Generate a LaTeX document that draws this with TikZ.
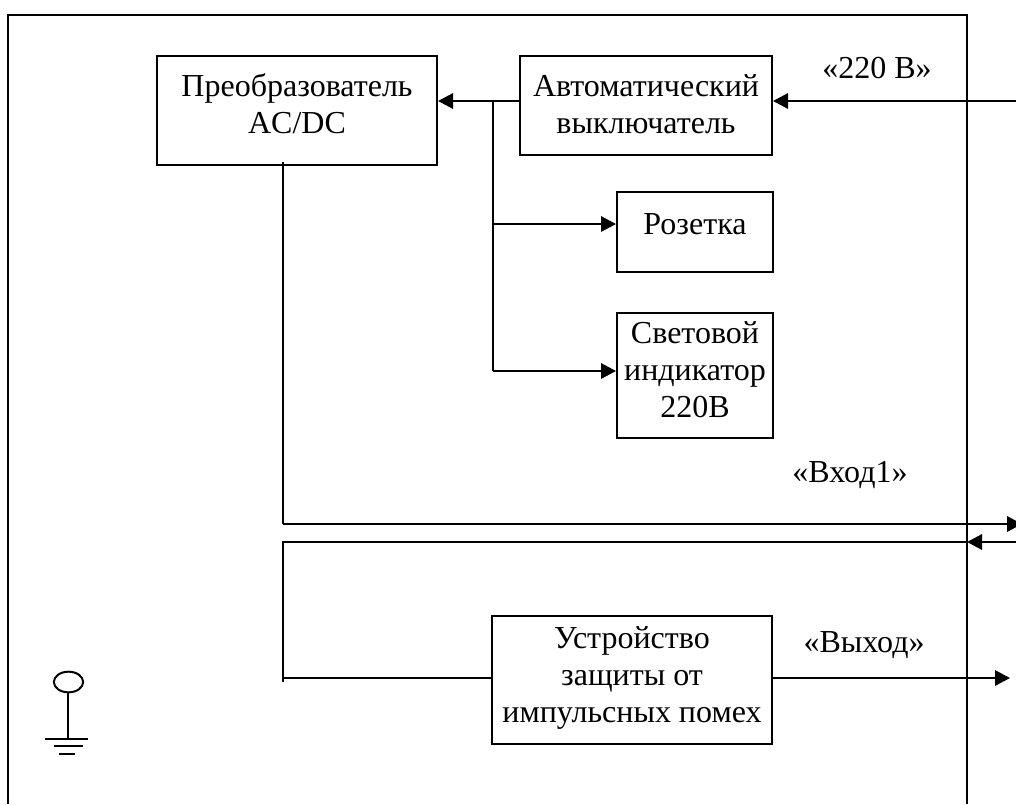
\documentclass[tikz,border=0pt]{standalone}
\usepackage{fontspec}
\setmainfont{Liberation Serif}
\usetikzlibrary{arrows.meta,shapes.geometric}
\tikzset{
  x=0.75pt,y=-0.75pt,
  ln/.style={line width=1.6pt,black},
  thinln/.style={line width=1.5pt,black},
  arr/.style={ln,-{Triangle[length=11.25pt,width=11.5pt]}},
  tnode/.style={font=\fontsize{24}{27.8}\selectfont,align=center,inner sep=0pt},
  boxn/.style={thinln,draw,anchor=north west,inner sep=0pt},
}
\begin{document}
\begin{tikzpicture}
\useasboundingbox (0,0) rectangle (1016,804);
\fill[white] (0,0) rectangle (1016,804);
% outer frame
\draw[thinln] (8,804) -- (8,15) -- (967,15) -- (967,804);
% boxes
\node[boxn,minimum width=210pt,minimum height=81.75pt] (conv) at (156,55) {};
\node[tnode] (convt) at (297,104) {Преобразователь\\AC/DC};
\node[boxn,minimum width=189pt,minimum height=74.25pt] (brk) at (519,55) {};
\node[tnode] (brkt) at (646,104) {Автоматический\\выключатель};
\node[boxn,minimum width=117pt,minimum height=60pt] (sock) at (616,191) {};
\node[tnode] (sockt) at (695,224) {Розетка};
\node[boxn,minimum width=117pt,minimum height=93.75pt] (lamp) at (616,312) {};
\node[tnode] (lampt) at (695,370) {Световой\\индикатор\\220В};
\node[boxn,minimum width=210pt,minimum height=96pt] (prot) at (491,615) {};
\node[tnode] (prott) at (632,678) {Устройство\\защиты от\\импульсных помех};
% labels
\node[tnode] (l220) at (877,68) {«220 В»};
\node[tnode] (lin) at (850,475) {«Вход1»};
\node[tnode] (lout) at (864,645) {«Выход»};
% free ends and junctions
\coordinate (e220) at (1016,101);
\coordinate (j1) at (493,101);
\coordinate (j2) at (493,224);
\coordinate (j3) at (493,371);
\coordinate (s1) at (283,162);
\coordinate (a1) at (283,524);
\coordinate (e1) at (1022,524);
\coordinate (e2) at (1018,542);
\coordinate (c2) at (967,542);
\coordinate (a2) at (283,542);
\coordinate (a3) at (283,678);
\coordinate (a4) at (283,682);
\coordinate (e3) at (1010,678);
% connectors
\draw[arr] (e220) -- (brk.east |- e220);
\draw[arr] (brk.west |- j1) -- (conv.east |- j1);
\draw[ln] (j1) -- (j3);
\draw[arr] (j2) -- (sock.west |- j2);
\draw[arr] (j3) -- (lamp.west |- j3);
\draw[thinln] (s1) -- (a1);
\draw[arr] (a1) -- (e1);
\draw[arr] (e2) -- (c2);
\draw[thinln] (c2) -- (a2) -- (a4);
\draw[thinln] (a3) -- (prot.west |- a3);
\draw[arr] (prot.east |- e3) -- (e3);
% ground
\node[ellipse,draw,thinln,minimum width=22pt,minimum height=15.5pt,inner sep=0pt] (gnd) at (68.5,682) {};
\coordinate (g0) at (68,739);
\coordinate (g1l) at (45,739); \coordinate (g1r) at (88,739);
\coordinate (g2l) at (54,746); \coordinate (g2r) at (83,746);
\coordinate (g3l) at (59,754); \coordinate (g3r) at (75,754);
\draw[ln] (gnd.south -| g0) -- (g0);
\draw[ln] (g1l) -- (g1r);
\draw[ln] (g2l) -- (g2r);
\draw[ln] (g3l) -- (g3r);
\end{tikzpicture}
\end{document}
